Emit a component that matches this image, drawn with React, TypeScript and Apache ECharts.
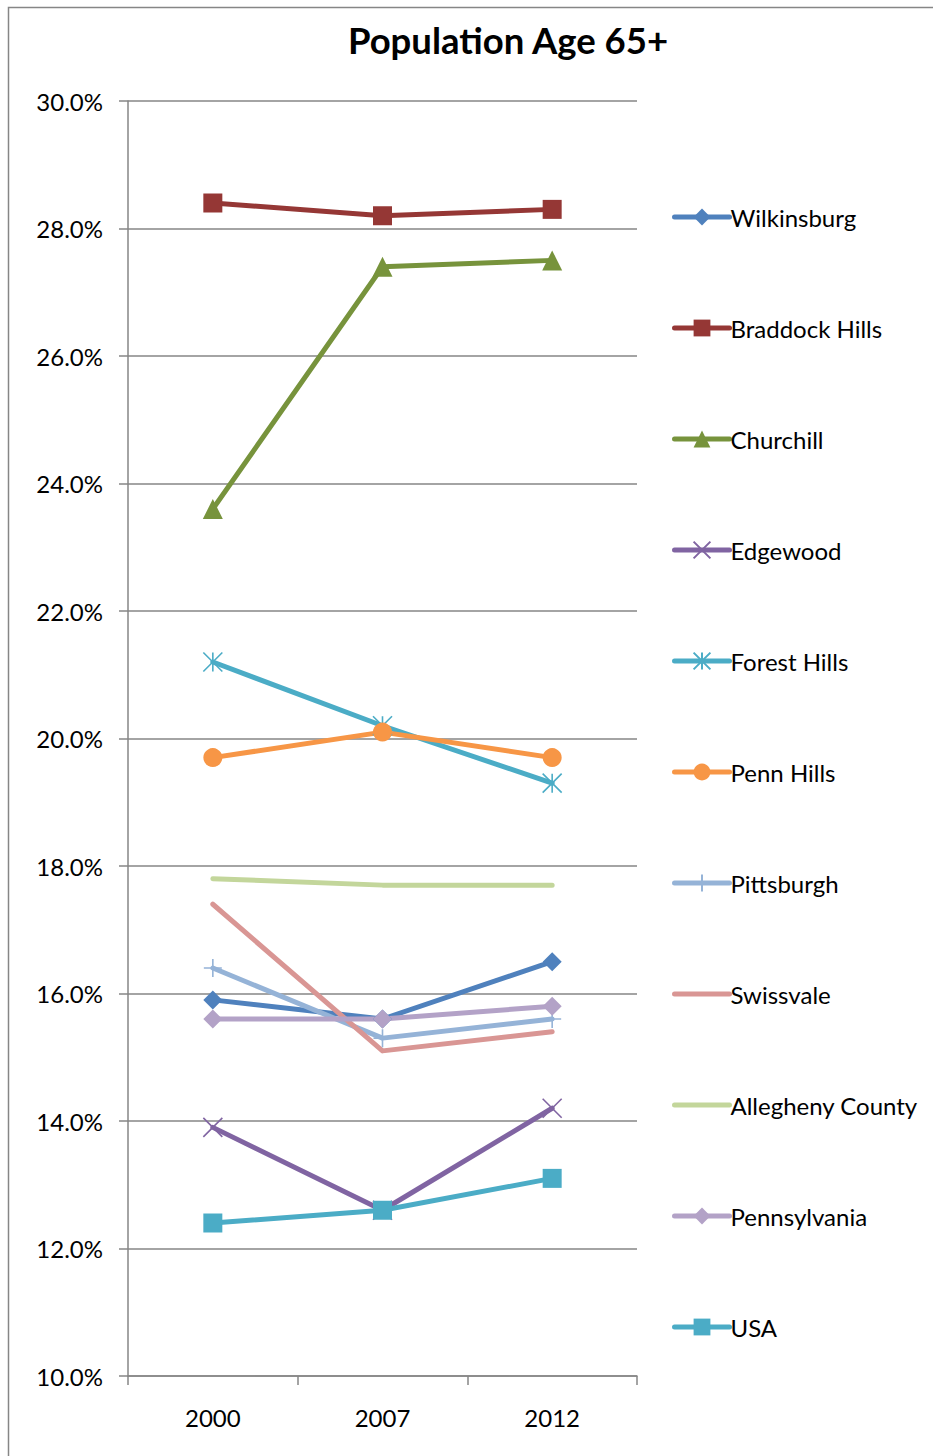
import React, { useEffect, useRef } from "react";
import * as echarts from "echarts";

// Share of residents aged 65 and over, by place and year
const years = ["2000", "2007", "2012"];

const wilkinsburg = [15.9, 15.6, 16.5];
const braddockHills = [28.4, 28.2, 28.3];
const churchill = [23.6, 27.4, 27.5];
const edgewood = [13.9, 12.6, 14.2];
const forestHills = [21.2, 20.2, 19.3];
const pennHills = [19.7, 20.1, 19.7];
const pittsburgh = [16.4, 15.3, 15.6];
const swissvale = [17.4, 15.1, 15.4];
const alleghenyCounty = [17.8, 17.7, 17.7];
const pennsylvania = [15.6, 15.6, 15.8];
const usa = [12.4, 12.6, 13.1];

const yMin = 10;
const yMax = 30;
const yStep = 2;

const FONT = "Lato, 'Open Sans', sans-serif";
const AXIS_GRAY = "#868686";

// Thin stroked marker outlines
const X_MARK = "path://M0,0L20,20M20,0L0,20";
const STAR_MARK = "path://M0,0L20,20M20,0L0,20M10,0L10,20";
const PLUS_MARK = "path://M10,0L10,20M0,10L20,10";

type Def = {
  name: string;
  data: number[];
  color: string;
  symbol: string;
  size: number;
  stroked?: boolean;
};

const defs: Def[] = [
  { name: "Wilkinsburg", data: wilkinsburg, color: "#4F81BD", symbol: "diamond", size: 19 },
  { name: "Braddock Hills", data: braddockHills, color: "#953735", symbol: "rect", size: 19 },
  { name: "Churchill", data: churchill, color: "#77933C", symbol: "triangle", size: 20 },
  { name: "Edgewood", data: edgewood, color: "#8064A2", symbol: X_MARK, size: 19, stroked: true },
  { name: "Forest Hills", data: forestHills, color: "#4BACC6", symbol: STAR_MARK, size: 19, stroked: true },
  { name: "Penn Hills", data: pennHills, color: "#F79646", symbol: "circle", size: 19 },
  { name: "Pittsburgh", data: pittsburgh, color: "#95B3D7", symbol: PLUS_MARK, size: 18, stroked: true },
  { name: "Swissvale", data: swissvale, color: "#D99694", symbol: "none", size: 0 },
  { name: "Allegheny County", data: alleghenyCounty, color: "#C3D69B", symbol: "none", size: 0 },
  { name: "Pennsylvania", data: pennsylvania, color: "#B3A2C7", symbol: "diamond", size: 19 },
  { name: "USA", data: usa, color: "#4BACC6", symbol: "rect", size: 19 },
];

export default function App() {
  const ref = useRef<HTMLDivElement>(null);

  useEffect(() => {
    if (!ref.current) return;
    const chart = echarts.init(ref.current, null, { renderer: "svg" });

    const series = defs.map((d) => ({
      type: "line",
      name: d.name,
      data: d.data,
      color: d.color,
      symbol: d.symbol,
      symbolSize: d.size,
      showSymbol: d.symbol !== "none",
      lineStyle: { color: d.color, width: 5, cap: "round", join: "round" },
      itemStyle: d.stroked
        ? { color: d.color, borderColor: d.color, borderWidth: 1.6 }
        : { color: d.color, borderColor: d.color, borderWidth: 0 },
      emphasis: { disabled: true },
    }));

    chart.setOption({
      animation: false,
      backgroundColor: "#ffffff",
      textStyle: { fontFamily: FONT },
      title: {
        text: "Population Age 65+",
        left: 503,
        top: 16,
        textAlign: "center",
        textStyle: { fontFamily: FONT, fontSize: 36.5, fontWeight: "bold", color: "#000" },
      },
      graphic: [
        {
          type: "rect",
          shape: { x: 8.5, y: 7.5, width: 1000, height: 1600 },
          style: { fill: "none", stroke: AXIS_GRAY, lineWidth: 1.5 },
          silent: true,
          z: -10,
        },
      ],
      legend: {
        orient: "vertical",
        left: 672,
        top: 205,
        padding: 0,
        itemWidth: 55,
        itemHeight: 21,
        itemGap: 87,
        selectedMode: false,
        lineStyle: { width: 5 },
        textStyle: { fontFamily: FONT, fontSize: 24, color: "#000", padding: [0, 0, 0, -4] },
        data: defs.map((d) =>
          d.symbol === "none" ? { name: d.name, itemStyle: { opacity: 0 } } : { name: d.name }
        ),
      },
      grid: { left: 128, right: 296, top: 101, bottom: 80 },
      xAxis: {
        type: "category",
        data: years,
        boundaryGap: true,
        axisLine: { lineStyle: { color: AXIS_GRAY, width: 1.5 } },
        axisTick: { show: true, length: 9, lineStyle: { color: AXIS_GRAY, width: 1.5 } },
        axisLabel: { fontFamily: FONT, fontSize: 24, color: "#000", margin: 29 },
      },
      yAxis: {
        type: "value",
        min: yMin,
        max: yMax,
        interval: yStep,
        axisLine: { show: true, lineStyle: { color: AXIS_GRAY, width: 1.5 } },
        axisTick: { show: true, length: 9, lineStyle: { color: AXIS_GRAY, width: 1.5 } },
        splitLine: { show: true, lineStyle: { color: AXIS_GRAY, width: 1.5 } },
        axisLabel: {
          fontFamily: FONT,
          fontSize: 24,
          color: "#000",
          margin: 25,
          formatter: (v: number) => v.toFixed(1) + "%",
        },
      },
      series,
    });

    return () => chart.dispose();
  }, []);

  return (
    <div
      ref={ref}
      style={{ position: "absolute", left: 0, top: 0, width: 933, height: 1456 }}
    />
  );
}
